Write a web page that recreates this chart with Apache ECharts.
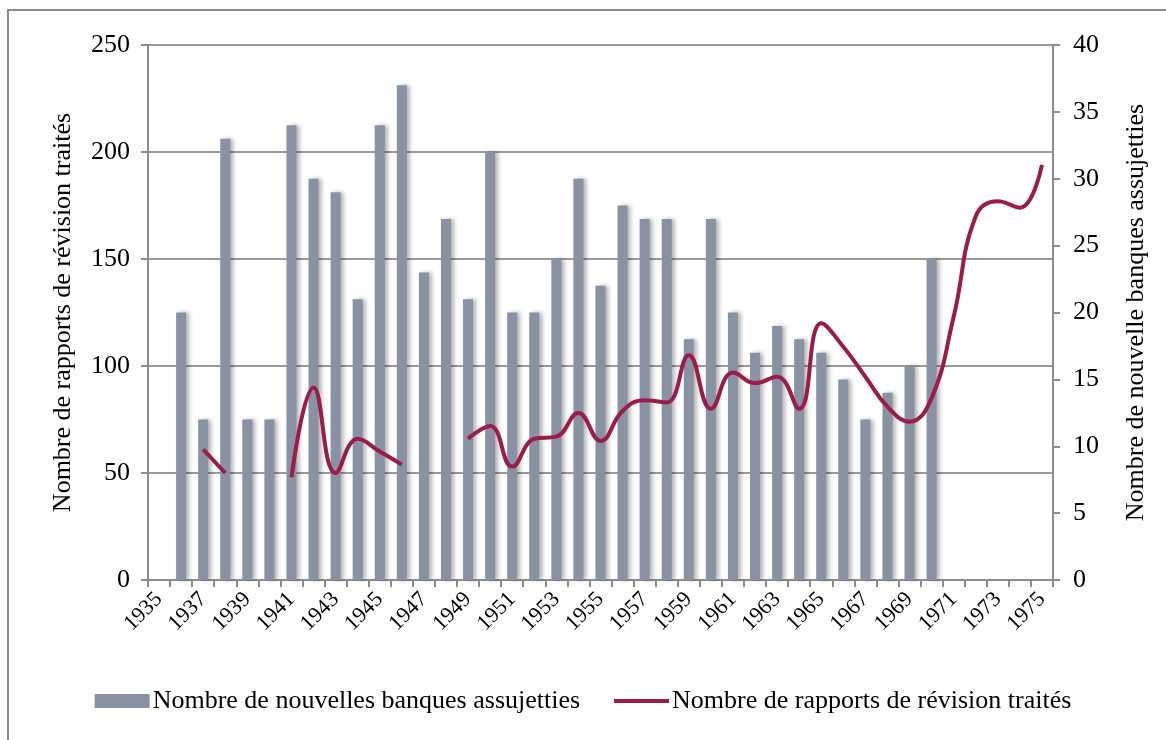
<!DOCTYPE html>
<html>
<head>
<meta charset="utf-8">
<script src="https://cdn.jsdelivr.net/npm/echarts@6/dist/echarts.min.js"></script>
<style>
  html, body { margin: 0; padding: 0; background: #fff; }
  #chart { width: 1166px; height: 740px; }
</style>
</head>
<body>
<div id="chart"></div>
<script>
const years = [];
for (let y = 1935; y <= 1975; y++) years.push(String(y));

// nouvelles banques assujetties (right axis)
const banques = [
  null, 20, 12, 33, 12, 12, 34, 30, 29, 21,
  34, 37, 23, 27, 21, 32, 20, 20, 24, 30,
  22, 28, 27, 27, 18, 27, 20, 17, 19, 18,
  17, 15, 12, 14, 16, 24, null, null, null, null,
  null
];

// rapports de révision traités (left axis)
const rapports = [
  null, null, 61, 50, null, null, 48, 90, 50, 66,
  60, 54, null, null, 66, 72, 53, 66, 67, 78,
  65, 79, 84, 83, 105, 80, 97, 92, 95, 80,
  120, 109, 95, 81, 74, 85, 123, 170, 177, 174,
  194
];

const leftTicks = [0, 250, 50];
const rightTicks = [0, 40, 5];

const font = 'Liberation Serif';
const axisGray = '#8c8c8c';

const myChart = echarts.init(document.getElementById('chart'));
let option;

option = {
  backgroundColor: '#fff',
  textStyle: { fontFamily: font, color: '#000' },
  graphic: [
    {
      type: 'rect',
      shape: { x: 8, y: 10, width: 1200, height: 800 },
      style: { fill: 'none', stroke: '#8a8a8a', lineWidth: 2 },
      silent: true
    }
  ],
  legend: {
    bottom: 21,
    left: 'center',
    itemWidth: 55,
    itemHeight: 14,
    itemGap: 34,
    textStyle: { fontFamily: font, fontSize: 26, color: '#000', padding: [0, 0, 0, -2] },
    data: [
      { name: 'Nombre de nouvelles banques assujetties', icon: 'rect' },
      { name: 'Nombre de rapports de révision traités', icon: 'path://M0,0 L55,0 L55,4 L0,4 Z' }
    ]
  },
  grid: { left: 148, right: 113, top: 45, bottom: 160 },
  xAxis: {
    type: 'category',
    data: years,
    boundaryGap: true,
    axisLine: { lineStyle: { color: axisGray, width: 2 } },
    axisTick: { show: true, interval: 0, length: 7, lineStyle: { color: axisGray, width: 2 } },
    axisLabel: {
      interval: 1,
      rotate: 45,
      fontFamily: font,
      fontSize: 22,
      color: '#000',
      margin: 16
    }
  },
  yAxis: [
    {
      type: 'value',
      min: leftTicks[0],
      max: leftTicks[1],
      interval: leftTicks[2],
      name: 'Nombre de rapports de révision traités',
      nameLocation: 'middle',
      nameGap: 72,
      nameTextStyle: { fontFamily: font, fontSize: 26, color: '#000' },
      axisLine: { show: true, lineStyle: { color: axisGray, width: 2 } },
      axisTick: { show: true, length: 7, lineStyle: { color: axisGray, width: 2 } },
      axisLabel: { fontFamily: font, fontSize: 26, color: '#000', margin: 18 },
      splitLine: { show: true, lineStyle: { color: '#9a9a9a', width: 2 } }
    },
    {
      type: 'value',
      min: rightTicks[0],
      max: rightTicks[1],
      interval: rightTicks[2],
      position: 'right',
      name: 'Nombre de nouvelle banques assujetties',
      nameLocation: 'middle',
      nameGap: 70,
      nameRotate: 90,
      nameTextStyle: { fontFamily: font, fontSize: 26, color: '#000' },
      axisLine: { show: true, lineStyle: { color: axisGray, width: 2 } },
      axisTick: { show: true, length: 7, lineStyle: { color: axisGray, width: 2 } },
      axisLabel: { fontFamily: font, fontSize: 26, color: '#000', margin: 20 },
      splitLine: { show: false }
    }
  ],
  series: [
    {
      name: 'Nombre de nouvelles banques assujetties',
      type: 'bar',
      yAxisIndex: 1,
      data: banques,
      barWidth: 10,
      itemStyle: {
        color: '#8892a2',
        shadowColor: 'rgba(0,0,0,0.3)',
        shadowBlur: 4,
        shadowOffsetX: 3,
        shadowOffsetY: 0
      },
      z: 2
    },
    {
      name: 'Nombre de rapports de révision traités',
      type: 'line',
      yAxisIndex: 0,
      data: rapports,
      smooth: 0.45,
      connectNulls: false,
      showSymbol: false,
      symbol: 'none',
      lineStyle: { color: '#9b1c47', width: 4 },
      itemStyle: { color: '#9b1c47' },
      z: 3
    }
  ]
};
option && myChart.setOption(option);
</script>
</body>
</html>
